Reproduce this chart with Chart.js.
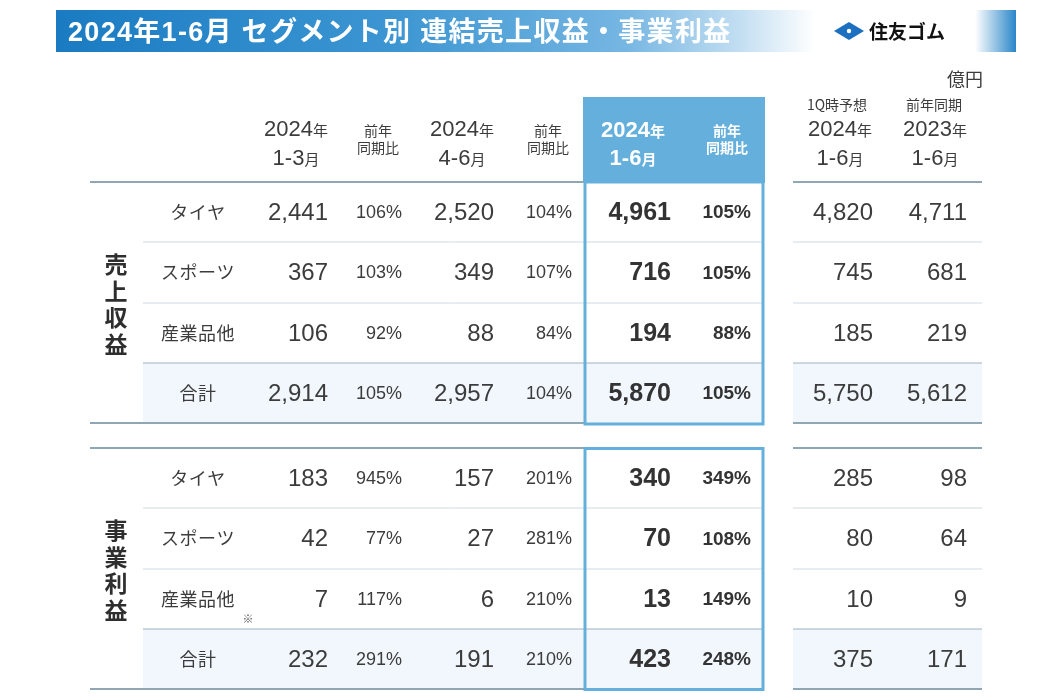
<!DOCTYPE html>
<html lang="ja">
<head>
<meta charset="utf-8">
<script src="https://cdn.jsdelivr.net/npm/chart.js@4/dist/chart.umd.min.js"></script>
<style>
  html, body { margin: 0; padding: 0; background: #fff; }
  #table { display: block; }
</style>
</head>
<body>
<canvas id="table" width="1055" height="696"></canvas>
<script>
// ==================== Data ====================

const title = '2024年1-6月 セグメント別 連結売上収益・事業利益';
const brand = '住友ゴム';
const unit = '億円';
const segments = ['タイヤ', 'スポーツ', '産業品他', '合計'];
const sections = ['売上収益', '事業利益'];

// sales revenue (売上収益)
const salesQ1 = [2441, 367, 106, 2914];
const salesQ1Yoy = [106, 103, 92, 105];
const salesQ2 = [2520, 349, 88, 2957];
const salesQ2Yoy = [104, 107, 84, 104];
const salesH1 = [4961, 716, 194, 5870];
const salesH1Yoy = [105, 105, 88, 105];
const salesForecast = [4820, 745, 185, 5750];
const salesPrevYear = [4711, 681, 219, 5612];

// business profit (事業利益)
const profitQ1 = [183, 42, 7, 232];
const profitQ1Yoy = [945, 77, 117, 291];
const profitQ2 = [157, 27, 6, 191];
const profitQ2Yoy = [201, 281, 210, 210];
const profitH1 = [340, 70, 13, 423];
const profitH1Yoy = [349, 108, 149, 248];
const profitForecast = [285, 80, 10, 375];
const profitPrevYear = [98, 64, 9, 171];

// ==================== Layout ====================

const FONT = '"Liberation Sans", Arial, "Noto Sans CJK JP", sans-serif';
const INK = '#3c3c3c';
const BLUE = '#64afdc';

// right edge of each numeric column
const colRight = [328, 402, 494, 572, 671, 751, 873, 967];
const colBold = [false, false, false, false, true, true, false, false];
const colIsYoy = [false, true, false, true, false, true, false, false];
// row borders per section
const rowEdges = [[182, 242, 303, 363, 423], [448, 508, 569, 629, 689]];

const fmt = v => v.toLocaleString('en-US');

// build scatter points: one per table cell
function buildCells() {
    const cols = [
        [salesQ1, salesQ1Yoy, salesQ2, salesQ2Yoy, salesH1, salesH1Yoy, salesForecast, salesPrevYear],
        [profitQ1, profitQ1Yoy, profitQ2, profitQ2Yoy, profitH1, profitH1Yoy, profitForecast, profitPrevYear]
    ];
    const cells = [];
    cols.forEach((sec, s) => {
        sec.forEach((series, c) => {
            series.forEach((v, r) => {
                const edges = rowEdges[s];
                cells.push({
                    x: colRight[c],
                    y: (edges[r] + edges[r + 1]) / 2,
                    text: colIsYoy[c] ? v + '%' : fmt(v),
                    yoy: colIsYoy[c],
                    bold: colBold[c]
                });
            });
        });
    });
    return cells;
}

// draw text made of runs with different fonts, centred on cx
function drawRuns(ctx, runs, cx, baseline, color) {
    ctx.textBaseline = 'alphabetic';
    ctx.textAlign = 'left';
    ctx.fillStyle = color;
    let total = 0;
    runs.forEach(r => { ctx.font = r[1]; total += ctx.measureText(r[0]).width; });
    let x = cx - total / 2;
    runs.forEach(r => {
        ctx.font = r[1];
        ctx.fillText(r[0], x, baseline);
        x += ctx.measureText(r[0]).width;
    });
}

function hline(ctx, X, Y, x1, x2, y, color, w) {
    ctx.strokeStyle = color;
    ctx.lineWidth = w;
    ctx.beginPath();
    ctx.moveTo(X(x1), Y(y));
    ctx.lineTo(X(x2), Y(y));
    ctx.stroke();
}

function fillRect(ctx, X, Y, x1, y1, x2, y2, fill) {
    ctx.fillStyle = fill;
    ctx.fillRect(X(x1), Y(y1), X(x2) - X(x1), Y(y2) - Y(y1));
}

const tablePlugin = {
    id: 'segmentTable',
    beforeDatasetsDraw(chart) {
        const ctx = chart.ctx;
        const X = v => chart.scales.x.getPixelForValue(v);
        const Y = v => chart.scales.y.getPixelForValue(v);
        ctx.save();

        // title banner
        const g = ctx.createLinearGradient(X(56), 0, X(815), 0);
        g.addColorStop(0, '#1a7bc2');
        g.addColorStop(0.45, '#3d96d2');
        g.addColorStop(0.75, '#76b6e2');
        g.addColorStop(0.9, '#c2def2');
        g.addColorStop(1, '#ffffff');
        fillRect(ctx, X, Y, 56, 10, 815, 52, g);
        const g2 = ctx.createLinearGradient(X(975), 0, X(1016), 0);
        g2.addColorStop(0, '#ffffff');
        g2.addColorStop(1, '#2a86c8');
        fillRect(ctx, X, Y, 975, 10, 1016, 52, g2);

        ctx.font = 'bold 27px ' + FONT;
        ctx.fillStyle = '#ffffff';
        ctx.textBaseline = 'alphabetic';
        ctx.textAlign = 'left';
        ctx.letterSpacing = '1.3px';
        ctx.fillText(title, X(68), Y(41));
        ctx.letterSpacing = '0px';

        // logo mark + name
        ctx.fillStyle = '#1d6fbf';
        ctx.beginPath();
        const lx = X(849), ly = Y(31);
        ctx.moveTo(lx - 15, ly); ctx.lineTo(lx, ly - 9); ctx.lineTo(lx + 15, ly); ctx.lineTo(lx, ly + 9);
        ctx.closePath();
        ctx.fill();
        ctx.fillStyle = '#ffffff';
        ctx.beginPath();
        ctx.arc(lx, ly, 2.2, 0, Math.PI * 2);
        ctx.fill();
        ctx.font = 'bold 19px "Noto Sans CJK JP", sans-serif';
        ctx.fillStyle = '#111111';
        ctx.textBaseline = 'middle';
        ctx.fillText(brand, X(869), Y(32));

        // unit
        ctx.font = '18px "Noto Sans CJK JP", sans-serif';
        ctx.fillStyle = INK;
        ctx.textAlign = 'right';
        ctx.fillText(unit, X(983), Y(79));

        // total row backgrounds
        rowEdges.forEach(e => {
            fillRect(ctx, X, Y, 143, e[3], 764, e[4], '#f1f7fc');
            fillRect(ctx, X, Y, 793, e[3], 982, e[4], '#f1f7fc');
        });

        // highlighted header
        fillRect(ctx, X, Y, 583, 97, 765, 183, BLUE);

        // grid lines
        rowEdges.forEach(e => {
            hline(ctx, X, Y, 143, 764, e[1], '#cddce6', 1);
            hline(ctx, X, Y, 143, 764, e[2], '#cddce6', 1);
            hline(ctx, X, Y, 143, 764, e[3], '#9eb2be', 1.2);
            hline(ctx, X, Y, 793, 982, e[1], '#cddce6', 1);
            hline(ctx, X, Y, 793, 982, e[2], '#cddce6', 1);
            hline(ctx, X, Y, 793, 982, e[3], '#9eb2be', 1.2);
            hline(ctx, X, Y, 90, 584, e[0], '#8fa6b3', 1.8);
            hline(ctx, X, Y, 90, 584, e[4], '#8fa6b3', 1.8);
            hline(ctx, X, Y, 793, 982, e[0], '#8fa6b3', 1.8);
            hline(ctx, X, Y, 793, 982, e[4], '#8fa6b3', 1.8);
        });

        // column headers
        const big = sz => sz + 'px ' + FONT;
        const cj = sz => sz + 'px "Noto Sans CJK JP", sans-serif';
        const bcj = sz => 'bold ' + sz + 'px "Noto Sans CJK JP", sans-serif';
        drawRuns(ctx, [['2024', big(22)], ['年', cj(15)]], X(296), Y(136), INK);
        drawRuns(ctx, [['1-3', big(22)], ['月', cj(15)]], X(296), Y(165), INK);
        drawRuns(ctx, [['2024', big(22)], ['年', cj(15)]], X(462), Y(136), INK);
        drawRuns(ctx, [['4-6', big(22)], ['月', cj(15)]], X(462), Y(165), INK);
        drawRuns(ctx, [['2024', 'bold ' + big(22)], ['年', bcj(15)]], X(633), Y(137), '#ffffff');
        drawRuns(ctx, [['1-6', 'bold ' + big(22)], ['月', bcj(15)]], X(633), Y(165), '#ffffff');
        drawRuns(ctx, [['1Q時予想', cj(14)]], X(837), Y(110), INK);
        drawRuns(ctx, [['2024', big(22)], ['年', cj(15)]], X(840), Y(136), INK);
        drawRuns(ctx, [['1-6', big(22)], ['月', cj(15)]], X(840), Y(165), INK);
        drawRuns(ctx, [['前年同期', cj(14)]], X(934), Y(110), INK);
        drawRuns(ctx, [['2023', big(22)], ['年', cj(15)]], X(935), Y(136), INK);
        drawRuns(ctx, [['1-6', big(22)], ['月', cj(15)]], X(935), Y(165), INK);
        [[378, false], [548, false], [727, true]].forEach(([cx, b]) => {
            const f = b ? bcj(14) : cj(14);
            const col = b ? '#ffffff' : INK;
            drawRuns(ctx, [['前年', f]], X(cx), Y(136), col);
            drawRuns(ctx, [['同期比', f]], X(cx), Y(153), col);
        });

        // row labels and section labels
        ctx.textAlign = 'center';
        ctx.textBaseline = 'middle';
        rowEdges.forEach((e, s) => {
            ctx.font = '18px "Noto Sans CJK JP", sans-serif';
            ctx.fillStyle = INK;
            ctx.letterSpacing = '0.5px';
            segments.forEach((name, r) => {
                ctx.fillText(name, X(198), Y((e[r] + e[r + 1]) / 2));
            });
            ctx.letterSpacing = '0px';
            ctx.font = 'bold 23px "Noto Sans CJK JP", sans-serif';
            ctx.fillStyle = '#2e2e2e';
            const mid = (e[0] + e[4]) / 2 + 2;
            Array.from(sections[s]).forEach((ch, i) => {
                ctx.fillText(ch, X(116), Y(mid + (i - 1.5) * 26.5));
            });
        });
        ctx.font = '11px "Noto Sans CJK JP", sans-serif';
        ctx.fillStyle = '#555555';
        ctx.fillText('※', X(248), Y(619));

        ctx.restore();
    },
    afterDatasetsDraw(chart) {
        const ctx = chart.ctx;
        const X = v => chart.scales.x.getPixelForValue(v);
        const Y = v => chart.scales.y.getPixelForValue(v);
        const meta = chart.getDatasetMeta(0);
        const cells = chart.data.datasets[0].data;
        ctx.save();
        ctx.textAlign = 'right';
        ctx.textBaseline = 'middle';
        meta.data.forEach((pt, i) => {
            const c = cells[i];
            const size = c.yoy ? (c.bold ? 19 : 18) : (c.bold ? 25 : 24);
            ctx.font = (c.bold ? 'bold ' : '') + size + 'px ' + FONT;
            ctx.fillStyle = c.bold ? '#333333' : INK;
            ctx.fillText(c.text, pt.x, pt.y + 1);
        });

        // highlighted column frames
        ctx.strokeStyle = BLUE;
        ctx.lineWidth = 3;
        ctx.strokeRect(X(585), Y(182), X(763) - X(585), Y(424) - Y(182));
        ctx.strokeRect(X(585), Y(448.5), X(763) - X(585), Y(689.5) - Y(448.5));
        ctx.restore();
    }
};

new Chart(document.getElementById('table'), {
    type: 'scatter',
    data: {
        datasets: [{
            data: buildCells(),
            pointRadius: 0,
            pointHoverRadius: 0
        }]
    },
    options: {
        responsive: false,
        animation: false,
        events: [],
        layout: { padding: 0 },
        plugins: {
            legend: { display: false },
            tooltip: { enabled: false }
        },
        scales: {
            x: { type: 'linear', min: 0, max: 1055, display: false },
            y: { type: 'linear', min: 0, max: 696, reverse: true, display: false }
        }
    },
    plugins: [tablePlugin]
});
</script>
</body>
</html>
